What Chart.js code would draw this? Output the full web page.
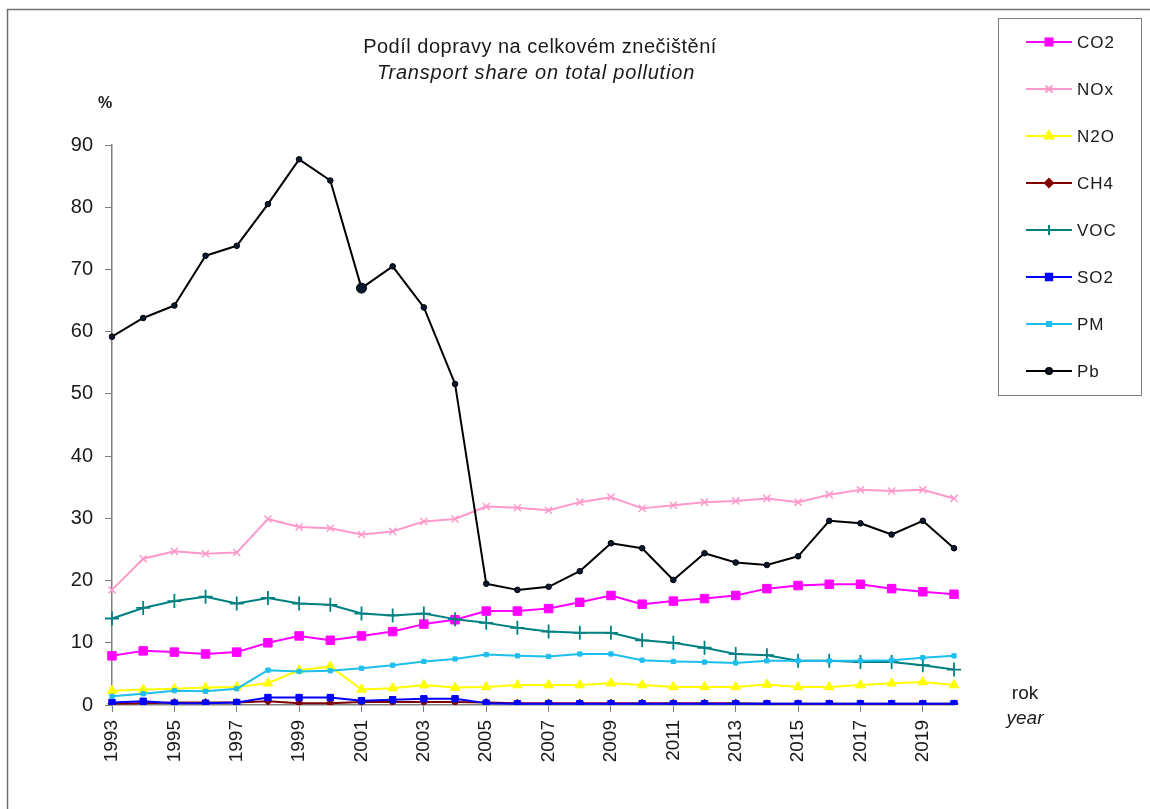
<!DOCTYPE html>
<html>
<head>
<meta charset="utf-8">
<title>Podíl dopravy na celkovém znečištění</title>
<script src="https://cdn.jsdelivr.net/npm/chart.js@4.4.1/dist/chart.umd.min.js"></script>
<style>
  html, body { margin: 0; padding: 0; background: #fff; }
  #wrap { position: relative; width: 1150px; height: 809px; }
</style>
</head>
<body>
<div id="wrap"><canvas id="myChart" width="1150" height="809"></canvas></div>
<script>
const years = ["1993", "1994", "1995", "1996", "1997", "1998", "1999", "2000", "2001", "2002",
  "2003", "2004", "2005", "2006", "2007", "2008", "2009", "2010", "2011", "2012",
  "2013", "2014", "2015", "2016", "2017", "2018", "2019", "2020"];

const co2 = [7.9, 8.7, 8.5, 8.2, 8.5, 10.0, 11.1, 10.4, 11.1, 11.8, 13.0, 13.7, 15.1, 15.1,
  15.5, 16.5, 17.6, 16.2, 16.7, 17.1, 17.6, 18.7, 19.2, 19.4, 19.4, 18.7, 18.2, 17.8];
const nox = [18.5, 23.5, 24.7, 24.3, 24.5, 29.9, 28.6, 28.4, 27.4, 27.9, 29.5, 29.9, 31.9, 31.7,
  31.3, 32.6, 33.4, 31.6, 32.1, 32.6, 32.8, 33.2, 32.6, 33.8, 34.6, 34.4, 34.6, 33.2];
const n2o = [2.3, 2.5, 2.6, 2.8, 2.9, 3.5, 5.6, 6.2, 2.5, 2.7, 3.2, 2.8, 2.9, 3.2,
  3.2, 3.2, 3.5, 3.2, 2.9, 2.9, 2.9, 3.3, 2.9, 2.9, 3.2, 3.5, 3.7, 3.2];
const ch4 = [0.2, 0.3, 0.4, 0.4, 0.4, 0.6, 0.3, 0.3, 0.5, 0.5, 0.5, 0.5, 0.4, 0.3,
  0.3, 0.3, 0.3, 0.3, 0.3, 0.3, 0.3, 0.2, 0.2, 0.2, 0.2, 0.2, 0.2, 0.2];
const voc = [13.9, 15.6, 16.7, 17.4, 16.3, 17.2, 16.3, 16.1, 14.7, 14.4, 14.7, 13.8, 13.2, 12.4,
  11.8, 11.6, 11.6, 10.4, 10.0, 9.2, 8.2, 8.0, 7.1, 7.1, 6.9, 6.9, 6.4, 5.7];
const so2 = [0.4, 0.6, 0.3, 0.3, 0.4, 1.2, 1.2, 1.2, 0.7, 0.85, 1.0, 1.0, 0.3, 0.2,
  0.2, 0.2, 0.2, 0.2, 0.2, 0.2, 0.2, 0.2, 0.2, 0.2, 0.2, 0.2, 0.2, 0.2];
const pm = [1.4, 1.8, 2.3, 2.2, 2.6, 5.6, 5.4, 5.5, 5.9, 6.4, 7.0, 7.4, 8.1, 7.9,
  7.8, 8.2, 8.2, 7.2, 7.0, 6.9, 6.75, 7.1, 7.1, 7.1, 7.1, 7.2, 7.6, 7.9];
const pb = [59.2, 62.2, 64.2, 72.2, 73.8, 80.5, 87.7, 84.3, 67.0, 70.5, 63.9, 51.6, 19.5, 18.5,
  19.0, 21.5, 26.0, 25.2, 20.1, 24.4, 22.9, 22.5, 23.9, 29.6, 29.2, 27.4, 29.6, 25.2];

const yTicks = [0, 10, 20, 30, 40, 50, 60, 70, 80, 90];

const FONT = "'Liberation Sans', Arial, sans-serif";
const TXT = "#1a1a1a";
const AXIS = "#808080";

const mk = (label, data, color, style, radius, extra) => Object.assign({
  label: label,
  data: data,
  borderColor: color,
  backgroundColor: color,
  borderWidth: 2,
  tension: 0,
  pointStyle: style,
  pointRadius: radius,
  pointBorderColor: color,
  pointBackgroundColor: color,
  pointBorderWidth: 1,
  pointHoverRadius: radius,
}, extra || {});

const datasets = [
  mk("CO2", co2, "#ff00ff", "rect", 6),
  mk("NOx", nox, "#ff99cc", "crossRot", 5, { pointBorderWidth: 1.5 }),
  mk("N2O", n2o, "#ffff00", "triangle", 5.5),
  mk("CH4", ch4, "#800000", "rectRot", 4),
  mk("VOC", voc, "#008080", "cross", 7, { pointBorderWidth: 1.8 }),
  mk("SO2", so2, "#0000ff", "rect", 4.5),
  mk("PM", pm, "#1ebeef", "rect", 3),
  mk("Pb", pb, "#000000", "circle", years.map((y) => (y === "2001" ? 5 : 2.8)),
    { pointBackgroundColor: "#0a1a33", pointBorderColor: "#000" }),
];
datasets.forEach((d, i) => { d.order = datasets.length - 1 - i; });

// texts, frame and legend box around the plot
const decor = {
  id: "decor",
  beforeDraw(chart) {
    const c = chart.ctx;
    c.save();
    c.fillStyle = "#fff";
    c.fillRect(0, 0, chart.width, chart.height);
    c.strokeStyle = "#707070";
    c.lineWidth = 1.5;
    c.beginPath();
    c.moveTo(7.5, chart.height);
    c.lineTo(7.5, 9.5);
    c.lineTo(chart.width, 9.5);
    c.stroke();
    c.restore();
  },
  afterDraw(chart) {
    const c = chart.ctx;
    c.save();
    c.fillStyle = TXT;
    c.textAlign = "center";
    c.textBaseline = "middle";
    c.font = "20px " + FONT;
    c.letterSpacing = "0.5px";
    c.fillText("Podíl dopravy na celkovém znečištění", 540, 47);
    c.font = "italic 20px " + FONT;
    c.letterSpacing = "0.8px";
    c.fillText("Transport share on total pollution", 536, 73);
    c.letterSpacing = "0px";
    c.font = "bold 16px " + FONT;
    c.fillText("%", 105, 104);
    c.font = "19px " + FONT;
    c.fillText("rok", 1025, 694);
    c.font = "italic 19px " + FONT;
    c.fillText("year", 1025, 719);

    // legend
    c.strokeStyle = AXIS;
    c.lineWidth = 1;
    c.strokeRect(998.5, 18.5, 143, 377);
    chart.data.datasets.forEach((ds, i) => {
      const y = 42 + i * 47;
      c.strokeStyle = ds.borderColor;
      c.lineWidth = 2;
      c.beginPath();
      c.moveTo(1026, y);
      c.lineTo(1072, y);
      c.stroke();
      const r = Array.isArray(ds.pointRadius) ? 3 : ds.pointRadius;
      c.fillStyle = ds.pointBackgroundColor;
      c.strokeStyle = ds.pointBorderColor;
      Chart.helpers.drawPoint(c, {
        pointStyle: ds.pointStyle,
        radius: Math.min(r, 5),
        rotation: 0,
        borderWidth: ds.pointBorderWidth,
      }, 1049, y);
      c.fillStyle = TXT;
      c.textAlign = "left";
      c.font = "17px " + FONT;
      c.letterSpacing = "1px";
      c.fillText(ds.label, 1077, y + 1);
      c.letterSpacing = "0px";
    });
    c.restore();
  },
};

const ctx = document.querySelector("canvas#myChart").getContext("2d");
const myChart = new Chart(ctx, {
  type: "line",
  data: { labels: years, datasets: datasets },
  options: {
    responsive: false,
    animation: false,
    devicePixelRatio: 1,
    layout: { padding: { top: 145, right: 196, bottom: 0, left: 0 } },
    plugins: { legend: { display: false }, tooltip: { enabled: false } },
    elements: { line: { borderJoinStyle: "round" } },
    scales: {
      x: {
        type: "category",
        offset: false,
        afterFit: (s) => { s.height = 104; },
        border: { color: AXIS, width: 1.5 },
        grid: {
          drawOnChartArea: false,
          drawTicks: true,
          tickLength: 7,
          tickColor: (c) => (c.index % 2 === 0 ? AXIS : "rgba(0,0,0,0)"),
        },
        ticks: {
          autoSkip: false,
          maxRotation: 90,
          minRotation: 90,
          padding: 8,
          color: TXT,
          font: { family: FONT, size: 19 },
          callback: (v, i) => (i % 2 === 0 ? years[i] : ""),
        },
      },
      y: {
        min: yTicks[0],
        max: yTicks[yTicks.length - 1],
        afterFit: (s) => { s.width = 112; },
        afterBuildTicks: (s) => { s.ticks = yTicks.map((v) => ({ value: v })); },
        border: { color: AXIS, width: 1.5 },
        grid: { drawOnChartArea: false, drawTicks: true, tickLength: 7, tickColor: AXIS },
        ticks: {
          padding: 12,
          color: TXT,
          font: { family: FONT, size: 20 },
        },
      },
    },
  },
  plugins: [decor],
});
</script>
</body>
</html>
